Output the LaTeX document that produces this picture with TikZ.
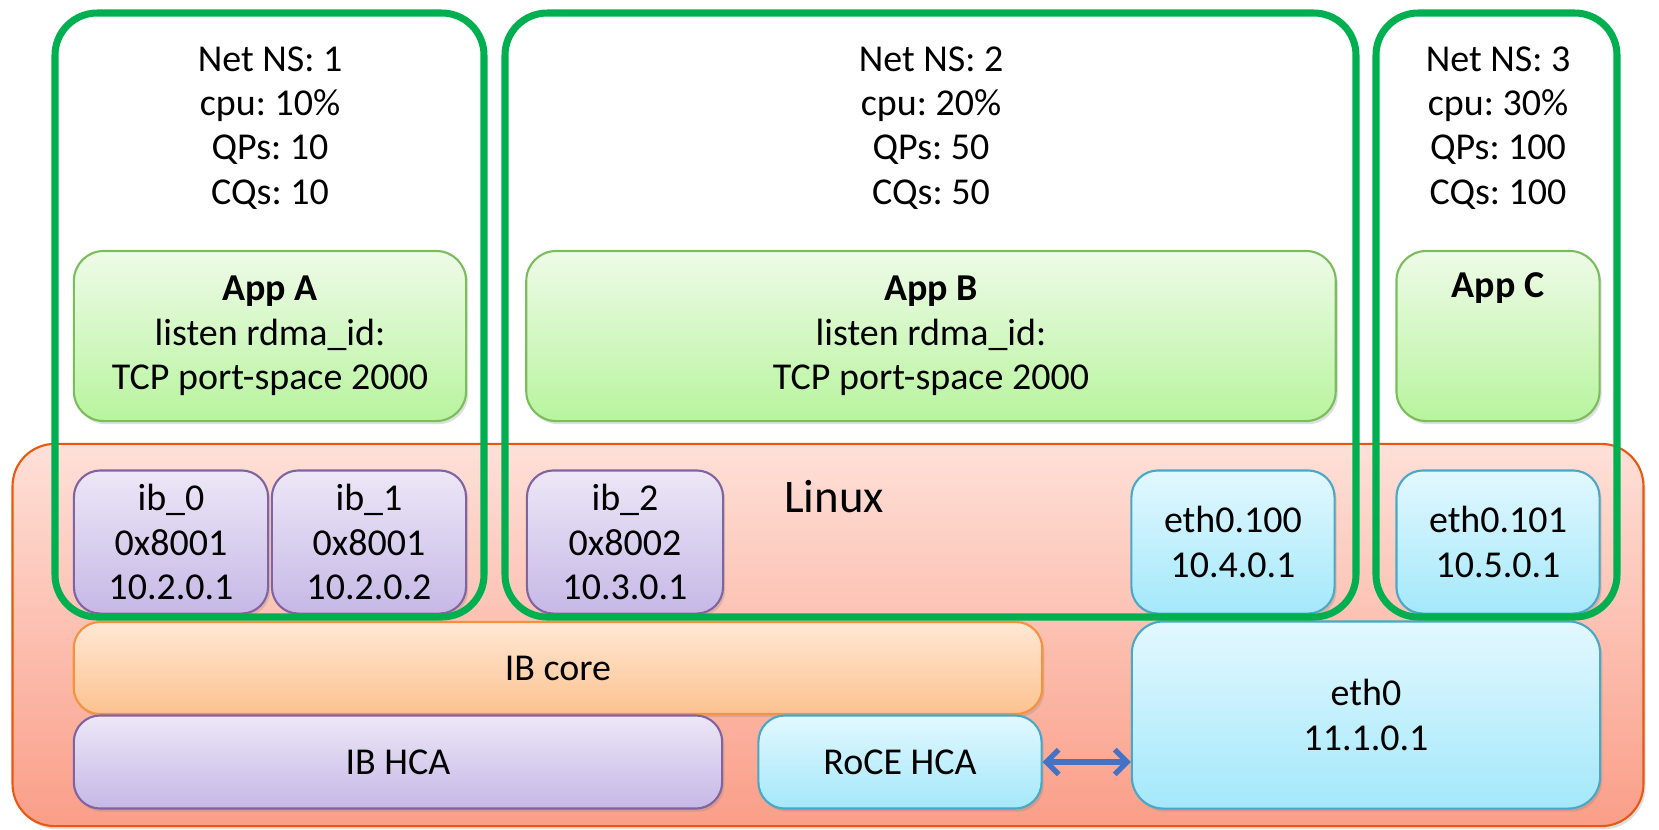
\documentclass[tikz,border=0pt]{standalone}
\usepackage{fontspec}
\setmainfont{Carlito}
\usetikzlibrary{positioning,shadows,arrows.meta}
\frenchspacing

\definecolor{nsgreen}{RGB}{0,176,80}
\definecolor{linuxline}{RGB}{232,88,16}
\definecolor{linuxtop}{RGB}{254,224,216}
\definecolor{linuxbot}{RGB}{250,158,136}
\definecolor{appline}{RGB}{122,190,92}
\definecolor{apptop}{RGB}{238,251,232}
\definecolor{appbot}{RGB}{184,244,158}
\definecolor{ibline}{RGB}{128,100,162}
\definecolor{ibtop}{RGB}{237,231,247}
\definecolor{ibbot}{RGB}{198,184,230}
\definecolor{coreline}{RGB}{246,146,62}
\definecolor{coretop}{RGB}{255,232,212}
\definecolor{corebot}{RGB}{252,194,144}
\definecolor{ethline}{RGB}{72,168,200}
\definecolor{ethtop}{RGB}{226,248,255}
\definecolor{ethbot}{RGB}{164,232,250}
\definecolor{arrowblue}{RGB}{68,114,196}

\tikzset{
  box/.style={rounded corners=7.5pt, inner sep=0pt, align=center, line width=0.6pt,
    font=\fontsize{10.8}{12.6}\selectfont,
    drop shadow={opacity=0.25, shadow xshift=0.6pt, shadow yshift=-0.9pt}},
  appbox/.style={box, draw=appline, top color=apptop, bottom color=appbot, rounded corners=8.5pt},
  ibbox/.style={box, draw=ibline, top color=ibtop, bottom color=ibbot},
  corebox/.style={box, draw=coreline, top color=coretop, bottom color=corebot},
  ethbox/.style={box, draw=ethline, top color=ethtop, bottom color=ethbot},
  nsframe/.style={draw=nsgreen, line width=2pt, rounded corners=12pt},
  nstext/.style={align=center, inner sep=0pt, font=\fontsize{10.8}{12.6}\selectfont},
}

\begin{document}
\begin{tikzpicture}[x=0.01cm, y=-0.01cm]
\useasboundingbox (0,0) rectangle (1659,829);

% Linux kernel area
\node[box, draw=linuxline, top color=linuxtop, bottom color=linuxbot, rounded corners=12pt,
      minimum width=16.30cm, minimum height=3.82cm] (linux) at (828,635) {};
\node[inner sep=0pt, font=\fontsize{13.3}{15}\selectfont] (linuxlbl) at (834,497) {Linux};

% apps
\node[appbox, minimum width=3.92cm, minimum height=1.70cm] (appA) at (270,336)
  {\textbf{App A}\\listen rdma\_id:\\TCP port-space 2000};
\node[appbox, minimum width=8.09cm, minimum height=1.70cm] (appB) at (931,336)
  {\textbf{App B}\\listen rdma\_id:\\TCP port-space 2000};
\node[appbox, minimum width=2.03cm, minimum height=1.70cm] (appC) at (1498,336)
  {\textbf{App C}\\\strut\\\strut};

% net devices
\node[ibbox, minimum width=1.94cm, minimum height=1.43cm] (ib0) at (171,542) {ib\_0\\0x8001\\10.2.0.1};
\node[ibbox, minimum width=1.94cm, minimum height=1.43cm] (ib1) at (369,542) {ib\_1\\0x8001\\10.2.0.2};
\node[ibbox, minimum width=1.96cm, minimum height=1.43cm] (ib2) at (625,542) {ib\_2\\0x8002\\10.3.0.1};
\node[ethbox, minimum width=2.03cm, minimum height=1.43cm] (eth100) at (1233,542) {eth0.100\\10.4.0.1};
\node[ethbox, minimum width=2.03cm, minimum height=1.43cm] (eth101) at (1498,542) {eth0.101\\10.5.0.1};

% lower layers
\node[corebox, minimum width=9.68cm, minimum height=0.92cm] (ibcore) at (558,668) {IB core};
\node[ibbox, minimum width=6.48cm, minimum height=0.93cm] (ibhca) at (398,762) {IB HCA};
\node[ethbox, minimum width=2.83cm, minimum height=0.93cm] (roce) at (900,762) {RoCE HCA};
\node[ethbox, minimum width=4.68cm, minimum height=1.87cm, rounded corners=9pt] (eth0) at (1366,715) {eth0\\11.1.0.1};

\draw[arrowblue, line width=1.5pt, {Straight Barb[length=3.5pt,width=7pt]}-{Straight Barb[length=3.5pt,width=7pt]}]
  (roce.east) -- (roce.east -| eth0.west);

% namespaces
\draw[nsframe] (55,13) rectangle (484,617);
\draw[nsframe] (505,13) rectangle (1356,617);
\draw[nsframe] (1376,13) rectangle (1617,617);
\node[nstext] (nsA) at (270,128) {Net NS: 1\\cpu: 10\%\\QPs: 10\\CQs: 10};
\node[nstext] (nsB) at (931,128) {Net NS: 2\\cpu: 20\%\\QPs: 50\\CQs: 50};
\node[nstext] (nsC) at (1498,128) {Net NS: 3\\cpu: 30\%\\QPs: 100\\CQs: 100};

\end{tikzpicture}
\end{document}
